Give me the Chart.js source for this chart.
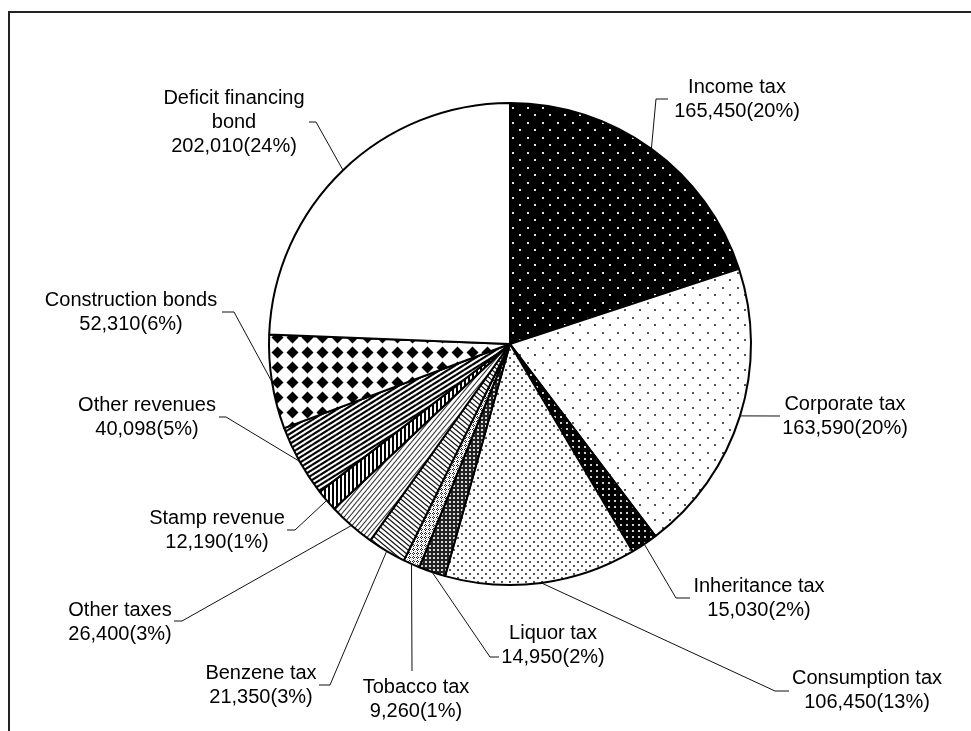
<!DOCTYPE html>
<html>
<head>
<meta charset="utf-8">
<script src="https://cdn.jsdelivr.net/npm/chart.js@4.4.1/dist/chart.umd.min.js"></script>
<style>
  html, body { margin: 0; padding: 0; background: #fff; }
  canvas { display: block; }
</style>
</head>
<body>
<canvas id="c" width="971" height="731"></canvas>
<script>
// Revenue breakdown (100 million yen), clockwise from 12 o'clock
const categories = [
  'Income tax', 'Corporate tax', 'Inheritance tax', 'Consumption tax',
  'Liquor tax', 'Tobacco tax', 'Benzene tax', 'Other taxes',
  'Stamp revenue', 'Other revenues', 'Construction bonds', 'Deficit financing\nbond'
];
const amounts = [165450, 163590, 15030, 106450, 14950, 9260, 21350, 26400, 12190, 40098, 52310, 202010];

// Label placement: text centre x, first-line centre y, leader waypoints after the slice edge
const labelLayout = [
  { cx: 737, cy: 87,  path: [[656, 99], [668, 99]] },
  { cx: 845, cy: 404, path: [[780, 416]] },
  { cx: 759, cy: 586, path: [[676, 598], [690, 598]] },
  { cx: 867, cy: 678, path: [[775, 691], [789, 691]] },
  { cx: 553, cy: 633, path: [[490, 657], [499, 657]] },
  { cx: 416, cy: 687, path: [[412, 671]] },
  { cx: 261, cy: 673, path: [[330, 685], [319, 685]] },
  { cx: 120, cy: 610, path: [[182, 621], [174, 621]] },
  { cx: 217, cy: 518, path: [[295, 530], [287, 530]] },
  { cx: 147, cy: 405, path: [[226, 417], [219, 417]] },
  { cx: 131, cy: 300, path: [[234, 312], [222, 312]] },
  { cx: 234, cy: 98,  path: [[316, 122], [309, 122]] }
];

const canvas = document.getElementById('c');
const ctx = canvas.getContext('2d');

function makeTile(w, h, paint) {
  const t = document.createElement('canvas');
  t.width = w; t.height = h;
  const g = t.getContext('2d');
  paint(g, w, h);
  return ctx.createPattern(t, 'repeat');
}
function dots(bg, fg, w, h, pts, s) {
  return makeTile(w, h, g => {
    g.fillStyle = bg; g.fillRect(0, 0, w, h);
    g.fillStyle = fg;
    pts.forEach(p => g.fillRect(p[0], p[1], s, s));
  });
}
// dir 1 draws '/' lines, dir -1 draws '\' lines
function stripes(bg, fg, w, h, lw, dir) {
  return makeTile(w, h, g => {
    g.fillStyle = bg; g.fillRect(0, 0, w, h);
    g.strokeStyle = fg; g.lineWidth = lw;
    for (let i = -1; i <= 1; i++) {
      for (let j = -1; j <= 1; j++) {
        const ox = i * w, oy = j * h;
        g.beginPath();
        if (dir > 0) { g.moveTo(ox, oy + h); g.lineTo(ox + w, oy); }
        else { g.moveTo(ox, oy); g.lineTo(ox + w, oy + h); }
        g.stroke();
      }
    }
  });
}

const fills = [
  dots('#000', '#e6e6e6', 15, 15, [[2, 2], [9, 9]], 2),             // income
  dots('#fff', '#555', 15, 15, [[2, 2], [9, 9]], 2),                // corporate
  dots('#000', '#d0d0d0', 6, 6, [[2, 2]], 2),                       // inheritance
  dots('#fff', '#555', 8, 8, [[1, 1], [5, 5]], 2),                  // consumption
  makeTile(4, 4, g => {                                             // liquor
    g.fillStyle = '#222'; g.fillRect(0, 0, 4, 4);
    g.fillStyle = '#d8d8d8'; g.fillRect(1, 1, 2, 2);
  }),
  makeTile(4, 4, g => {                                             // tobacco
    g.fillStyle = '#fff'; g.fillRect(0, 0, 4, 4);
    g.fillStyle = '#222';
    [[1, 0], [0, 1], [2, 1], [1, 2]].forEach(p => g.fillRect(p[0], p[1], 1, 1));
    g.fillStyle = '#999'; g.fillRect(3, 3, 1, 1);
  }),
  stripes('#fff', '#111', 6, 5, 1.3, -1),                           // benzene
  stripes('#fff', '#333', 5, 6, 1.1, 1),                            // other taxes
  makeTile(4, 4, g => {                                             // stamp
    g.fillStyle = '#fff'; g.fillRect(0, 0, 4, 4);
    g.fillStyle = '#000'; g.fillRect(0, 0, 2, 4);
  }),
  stripes('#fff', '#000', 8, 5, 2.2, 1),                            // other revenues
  makeTile(15, 15, g => {                                           // construction bonds
    g.fillStyle = '#fff'; g.fillRect(0, 0, 15, 15);
    g.fillStyle = '#000';
    g.beginPath();
    g.moveTo(7.5, 1.5); g.lineTo(13.5, 7.5); g.lineTo(7.5, 13.5); g.lineTo(1.5, 7.5);
    g.closePath(); g.fill();
  }),
  '#ffffff'                                                          // deficit financing bond
];

const total = amounts.reduce((a, b) => a + b, 0);
const FONT = '20px "Liberation Sans", Arial, sans-serif';
const LINE_H = 24;

const framePlugin = {
  id: 'frame',
  beforeDraw(chart) {
    const g = chart.ctx;
    g.save();
    g.fillStyle = '#fff';
    g.fillRect(0, 0, chart.width, chart.height);
    g.strokeStyle = '#222';
    g.lineWidth = 2;
    g.beginPath();
    g.moveTo(9, chart.height);
    g.lineTo(9, 12);
    g.lineTo(chart.width, 12);
    g.stroke();
    g.restore();
  }
};

const labelPlugin = {
  id: 'sliceLabels',
  afterDatasetsDraw(chart) {
    const g = chart.ctx;
    const arcs = chart.getDatasetMeta(0).data;
    g.save();
    g.strokeStyle = '#111';
    g.lineWidth = 1;
    g.font = FONT;
    g.fillStyle = '#000';
    g.textAlign = 'center';
    g.textBaseline = 'middle';
    arcs.forEach((arc, i) => {
      const p = arc.getProps(['x', 'y', 'startAngle', 'endAngle', 'outerRadius'], true);
      const mid = (p.startAngle + p.endAngle) / 2;
      const sx = p.x + Math.cos(mid) * p.outerRadius;
      const sy = p.y + Math.sin(mid) * p.outerRadius;
      const lay = labelLayout[i];
      g.beginPath();
      g.moveTo(sx, sy);
      lay.path.forEach(pt => g.lineTo(pt[0], pt[1]));
      g.stroke();

      const v = amounts[i];
      const pct = Math.round(v / total * 100);
      const lines = categories[i].split('\n').concat(v.toLocaleString('en-US') + '(' + pct + '%)');
      lines.forEach((t, k) => g.fillText(t, lay.cx, lay.cy + k * LINE_H));
    });
    g.restore();
  }
};

new Chart(ctx, {
  type: 'pie',
  data: {
    labels: categories,
    datasets: [{
      data: amounts,
      backgroundColor: fills,
      borderColor: '#000',
      borderWidth: 2
    }]
  },
  options: {
    responsive: false,
    animation: false,
    layout: { padding: { top: 102, bottom: 145, left: 268, right: 219 } },
    plugins: {
      legend: { display: false },
      tooltip: { enabled: false }
    }
  },
  plugins: [framePlugin, labelPlugin]
});
</script>
</body>
</html>
